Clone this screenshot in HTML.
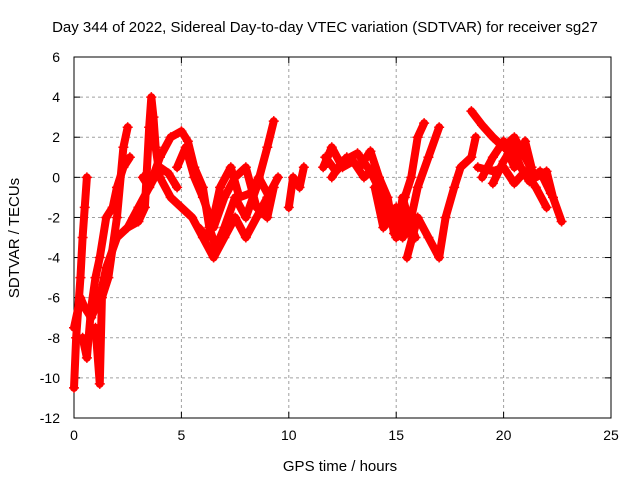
<!DOCTYPE html>
<html><head><meta charset="utf-8"><style>
body{margin:0;background:#fff;}
svg{display:block;font-family:"Liberation Sans",sans-serif;}
</style></head><body>
<svg id="chart" width="640" height="480" viewBox="0 0 640 480">
<text x="325" y="32" text-anchor="middle" font-size="15">Day 344 of 2022, Sidereal Day-to-day VTEC variation (SDTVAR) for receiver sg27</text>
<g id="grid"></g>
<g id="axes"></g>
<g id="marks"></g>
<text x="340" y="471" text-anchor="middle" font-size="15">GPS time / hours</text>
<text transform="translate(19,238) rotate(-90)" text-anchor="middle" font-size="15">SDTVAR / TECUs</text>
</svg>
<script>
const xTicks=[0,5,10,15,20,25];
const yTicks=[-12,-10,-8,-6,-4,-2,0,2,4,6];
const track1=[[0,-7.5],[0.3,-6],[0.5,-6.5],[0.8,-7],[1.2,-6],[1.5,-4.5],[2,-3],[2.5,-2.5],[3,-1.5],[3.5,-0.5],[4,1],[4.5,2],[5,2.3],[5.3,1.8],[5.6,0.5],[6,-0.5],[6.3,-2.5],[6.6,-3.5],[7,-2.5],[7.5,-1],[8,-2],[8.5,-0.5],[9,1.5],[9.3,2.8]];
const track2=[[0,-10.5],[0.1,-8],[0.3,-5],[0.4,-3],[0.5,-1.5],[0.6,0]];
const track3=[[0.4,-8],[0.6,-9],[0.8,-6.5],[1,-5],[1.2,-4],[1.5,-2],[1.8,-1.5],[2,-0.5],[2.3,0.5],[2.6,1]];
const track4=[[1.0,-7.5],[1.2,-10.3],[1.3,-6],[1.6,-5],[2,-2],[2.3,1.5],[2.5,2.5]];
const track5=[[2.5,-2.5],[3,-2.2],[3.3,-1.5],[3.5,2.5],[3.6,4],[3.7,3],[3.8,1.5],[4,0],[4.5,-1],[5,-1.5],[5.5,-2],[6,-3],[6.5,-4],[7,-3],[7.5,-2],[8,-3],[8.5,-2],[9,-1],[9.5,0]];
const track6=[[4.8,0.5],[5.2,1.5],[5.6,0],[6,-1],[6.5,-2.5],[7,-1],[7.5,0],[8,0.5],[8.5,-1.5],[9,-2],[9.3,-0.5]];
const track7=[[10,-1.5],[10.2,0],[10.5,-0.5],[10.7,0.5]];
const track8=[[11.6,0.5],[12,1.5],[12.5,0.5],[13,0.8],[13.5,0],[14,0.5],[14.2,-1],[14.5,-2],[15,-1.5],[15.3,-3],[15.7,-2],[16,-0.5],[16.5,1],[17,2.5]];
const track9=[[12,0],[12.5,0.8],[13.2,1.2],[13.8,0.3],[14.5,-1.2],[15,-2.5],[15.4,-1],[15.7,0],[16,2],[16.3,2.7]];
const track10=[[15.5,-4],[16,-2],[16.5,-3],[17,-4],[17.3,-2],[17.7,-0.5],[18,0.5],[18.5,1],[18.7,2]];
const track11=[[18.5,3.3],[19,2.6],[19.5,2],[20,1.5],[20.5,2],[21,1],[21.5,0],[22,0.3],[22.3,-1],[22.7,-2.2]];
const track12=[[18.8,0.5],[19.5,0.3],[20,0.5],[20.5,-0.3],[21,0.3],[21.5,-0.5],[22,-1.5]];
const track13=[[19,0],[19.5,1],[20,1.8],[20.5,0.5],[21,1.8],[21.3,0.5]];
const track14=[[11.7,1],[12.2,0.3],[12.7,1],[13.3,0.5],[13.8,1.3],[14.2,0],[14.6,-1],[14.9,-2.8],[15.2,-2],[15.5,-2.8]];
const track15=[[14,-0.5],[14.4,-2.5],[14.8,-2],[15,-3],[15.3,-1],[15.6,-2.2],[15.9,-3]];
const track16=[[5.8,-2.5],[6.2,-3],[6.5,-2],[6.8,-0.5],[7.3,0.5],[7.7,-1],[8.2,-0.8],[8.6,0],[9.1,-1]];
const track17=[[3.2,0],[3.5,-0.5],[4,0.5],[4.4,0.2],[4.8,-0.5]];
const track18=[[19.5,-0.3],[20,0.8],[20.4,1.5],[20.8,0.5],[21.2,-0.2],[21.7,0.3],[22.2,-0.8]];
const tracks=[track1,track2,track3,track4,track5,track6,track7,track8,track9,track10,track11,track12,track13,track14,track15,track16,track17,track18];

const X0=74,X1=611,Y0=418,Y1=57;
const sx=v=>X0+(v-0)/(25-0)*(X1-X0);
const sy=v=>Y0-(v+12)/(18)*(Y0-Y1);
const NS="http://www.w3.org/2000/svg";
function mk(tag,attrs,parent){const e=document.createElementNS(NS,tag);for(const k in attrs)e.setAttribute(k,attrs[k]);parent.appendChild(e);return e;}
const grid=document.getElementById('grid'),axes=document.getElementById('axes'),marks=document.getElementById('marks');
xTicks.forEach(t=>{const x=sx(t);
 if(t>0&&t<25){const l=mk('line',{x1:x,x2:x,y1:Y1,y2:Y0,stroke:'#a0a0a0','stroke-dasharray':'3,3'},grid);
 
 }
 mk('line',{x1:x,x2:x,y1:Y0,y2:Y0-6,stroke:'#000'},axes);
 mk('line',{x1:x,x2:x,y1:Y1,y2:Y1+6,stroke:'#000'},axes);
 const tx=mk('text',{x:x,y:Y0+22,'text-anchor':'middle','font-size':14},axes);tx.textContent=t;
 
 
});
yTicks.forEach(t=>{const y=sy(t);
 if(t>-12&&t<6){const l=mk('line',{x1:X0,x2:X1,y1:y,y2:y,stroke:'#a0a0a0','stroke-dasharray':'3,3'},grid);
 
 }
 mk('line',{x1:X0,x2:X0+6,y1:y,y2:y,stroke:'#000'},axes);
 mk('line',{x1:X1,x2:X1-6,y1:y,y2:y,stroke:'#000'},axes);
 const tx=mk('text',{x:X0-14,y:y+5,'text-anchor':'end','font-size':14},axes);tx.textContent=t;
 
 
});
mk('rect',{x:X0,y:Y1,width:X1-X0,height:Y0-Y1,fill:'none',stroke:'#000'},axes);
tracks.forEach((tr,i)=>{
 const pl=mk('polyline',{points:tr.map(p=>sx(p[0])+','+sy(p[1])).join(' '),fill:'none',stroke:'#f00','stroke-width':8,'stroke-linejoin':'round','stroke-linecap':'round'},marks);
 
 
 tr.forEach(p=>{const x=sx(p[0]),y=sy(p[1]);
  const m=mk('path',{d:`M${x-5},${y}H${x+5}M${x},${y-5}V${y+5}`,stroke:'#f00','stroke-width':1.5},marks);
  
  
 });
});
</script>
</body></html>
